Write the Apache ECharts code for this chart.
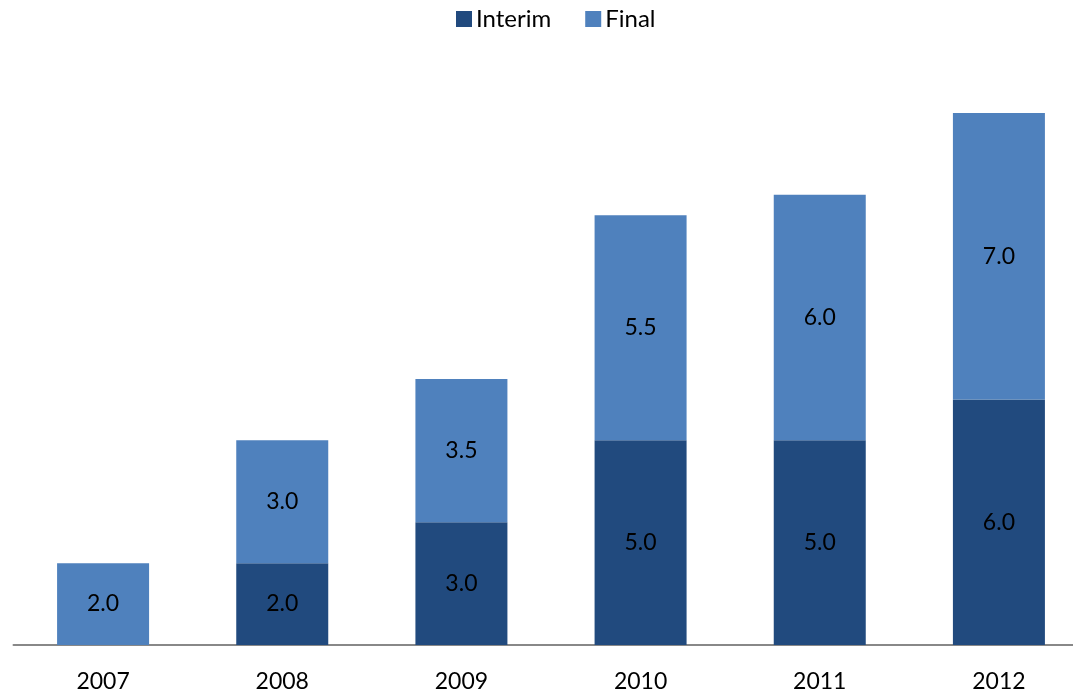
<!DOCTYPE html>
<html>
<head>
<meta charset="utf-8">
<script src="https://cdn.jsdelivr.net/npm/echarts@6/dist/echarts.min.js"></script>
<style>
  html, body { margin: 0; padding: 0; background: #fff; }
  #chart { width: 1073px; height: 695px; }
</style>
</head>
<body>
<div id="chart"></div>
<script>
// Yearly values, stacked: interim part below, final part on top
const years = ['2007', '2008', '2009', '2010', '2011', '2012'];
const interim = [null, 2.0, 3.0, 5.0, 5.0, 6.0];
const finalVals = [2.0, 3.0, 3.5, 5.5, 6.0, 7.0];

const FONT = 'Lato, "Open Sans", sans-serif';

const chart = echarts.init(document.getElementById('chart'), null, { renderer: 'canvas' });

const valueLabel = {
  show: true,
  position: 'inside',
  color: '#000',
  fontFamily: FONT,
  fontSize: 23,
  formatter: p => (p.value == null ? '' : Number(p.value).toFixed(1))
};

chart.setOption({
  animation: false,
  backgroundColor: '#fff',
  legend: {
    top: 2,
    left: 451,
    itemWidth: 16,
    itemHeight: 16,
    itemGap: 34,
    icon: 'rect',
    textStyle: { fontFamily: FONT, fontSize: 24, color: '#000', padding: [0, 0, 0, -1] },
    data: ['Interim', 'Final']
  },
  // the plot runs a little past the right edge of the canvas
  grid: { left: 13.5, width: 1075, top: 72, height: 573, containLabel: false, outerBoundsMode: 'none' },
  xAxis: {
    type: 'category',
    data: years,
    axisLine: { show: true, lineStyle: { color: '#888888', width: 2 } },
    axisTick: { show: false },
    axisLabel: { color: '#000', fontFamily: FONT, fontSize: 23, margin: 25 }
  },
  yAxis: {
    type: 'value',
    min: 0,
    max: 14,
    show: false,
    splitLine: { show: false }
  },
  series: [
    {
      name: 'Interim',
      type: 'bar',
      stack: 'total',
      barWidth: 92,
      data: interim,
      itemStyle: { color: '#214A7E' },
      label: valueLabel
    },
    {
      name: 'Final',
      type: 'bar',
      stack: 'total',
      barWidth: 92,
      data: finalVals,
      itemStyle: { color: '#4F81BD' },
      label: valueLabel
    }
  ]
});
</script>
</body>
</html>
